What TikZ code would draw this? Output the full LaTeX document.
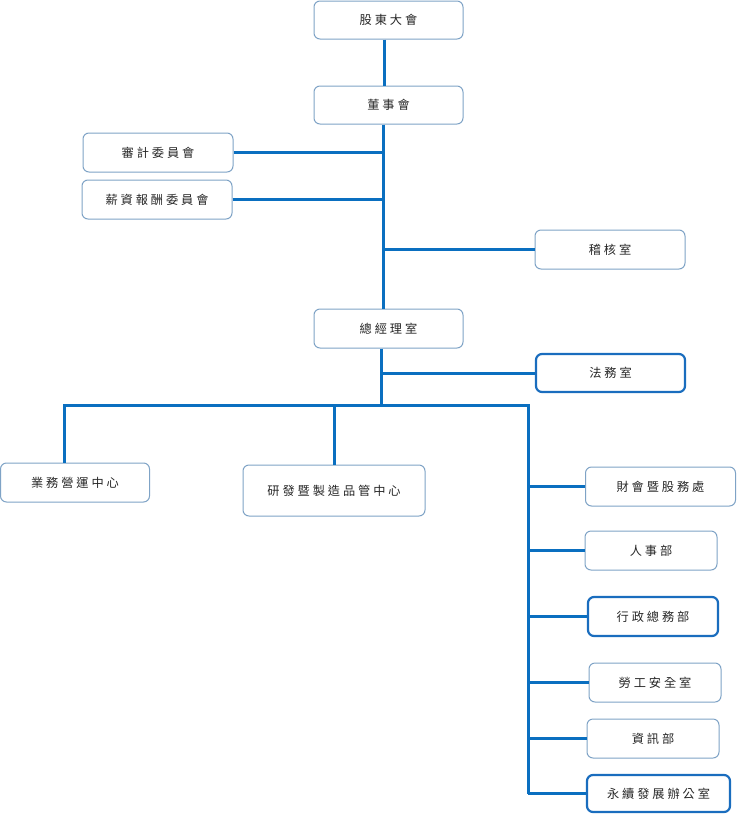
\documentclass[tikz,border=0pt]{standalone}
\usepackage{fontspec}
\newfontfamily\cjk[LetterSpace=24]{Noto Sans CJK TC}
\definecolor{linec}{HTML}{0A6FC0}
\definecolor{boxc}{HTML}{7FA3C6}
\definecolor{boldc}{HTML}{1A6DBE}
\definecolor{txt}{HTML}{262626}
\begin{document}
\begin{tikzpicture}[x=1pt,y=-1pt,
  box/.style={draw=boxc, line width=1pt, rounded corners=6pt, fill=white, inner sep=0pt,
    font=\cjk\fontsize{12.2}{14}\selectfont, text=txt},
  boldbox/.style={box, draw=boldc, line width=2.2pt},
  conn/.style={draw=linec, line width=3pt}]
\useasboundingbox (0,0) rectangle (737,817);
% nodes
\node[box, minimum width=149, minimum height=38] (gd) at (388.5,20) {股東大會};
\node[box, minimum width=149, minimum height=38] (ds) at (388.5,105) {董事會};
\node[box, minimum width=150, minimum height=39] (sj) at (158,152.5) {審計委員會};
\node[box, minimum width=150, minimum height=39] (xc) at (157,199.5) {薪資報酬委員會};
\node[box, minimum width=150, minimum height=39] (jh) at (610,249.5) {稽核室};
\node[box, minimum width=149, minimum height=39] (zj) at (388.5,328.5) {總經理室};
\node[boldbox, minimum width=149, minimum height=38] (fw) at (610.5,373) {法務室};
\node[box, minimum width=149, minimum height=39] (yw) at (75,482.5) {業務營運中心};
\node[box, minimum width=182, minimum height=51] (yf) at (334,490.5) {研發暨製造品管中心};
\node[box, minimum width=150, minimum height=39] (ch) at (660.5,486.5) {財會暨股務處};
\node[box, minimum width=132, minimum height=39] (rs) at (651,550.5) {人事部};
\node[boldbox, minimum width=130, minimum height=39] (xz) at (653,616.5) {行政總務部};
\node[box, minimum width=132, minimum height=39] (lg) at (655,682.5) {勞工安全室};
\node[box, minimum width=132, minimum height=39] (zx) at (653,738.5) {資訊部};
\node[boldbox, minimum width=143, minimum height=37] (ys) at (658.5,793.5) {永續發展辦公室};
% helper coordinates
\coordinate (xA) at (384,0);
\coordinate (xB) at (383,0);
\coordinate (xC) at (381.5,0);
\coordinate (busL) at (64,405);
\coordinate (busR) at (528,405);
\coordinate (busM) at (334.5,405);
\coordinate (busC) at (381.5,405);
% connectors
\draw[conn] (gd.south -| xA) -- (ds.north -| xA);
\draw[conn] (ds.south -| xB) -- (zj.north -| xB);
\draw[conn] (sj.east) -- (sj.east -| xB);
\draw[conn] (xc.east) -- (xc.east -| xB);
\draw[conn] (jh.west) -- (jh.west -| xB);
\draw[conn] (zj.south -| xC) -- (busC);
\draw[conn] (fw.west) -- (fw.west -| xC);
\draw[conn] (yw.north -| busL) -- (busL) -- (busR) -- (ys.west -| busR);
\draw[conn] (busM) -- (yf.north -| busM);
\draw[conn] (ch.west) -- (ch.west -| busR);
\draw[conn] (rs.west) -- (rs.west -| busR);
\draw[conn] (xz.west) -- (xz.west -| busR);
\draw[conn] (lg.west) -- (lg.west -| busR);
\draw[conn] (zx.west) -- (zx.west -| busR);
\draw[conn] (ys.west) -- (ys.west -| busR);
\end{tikzpicture}
\end{document}
